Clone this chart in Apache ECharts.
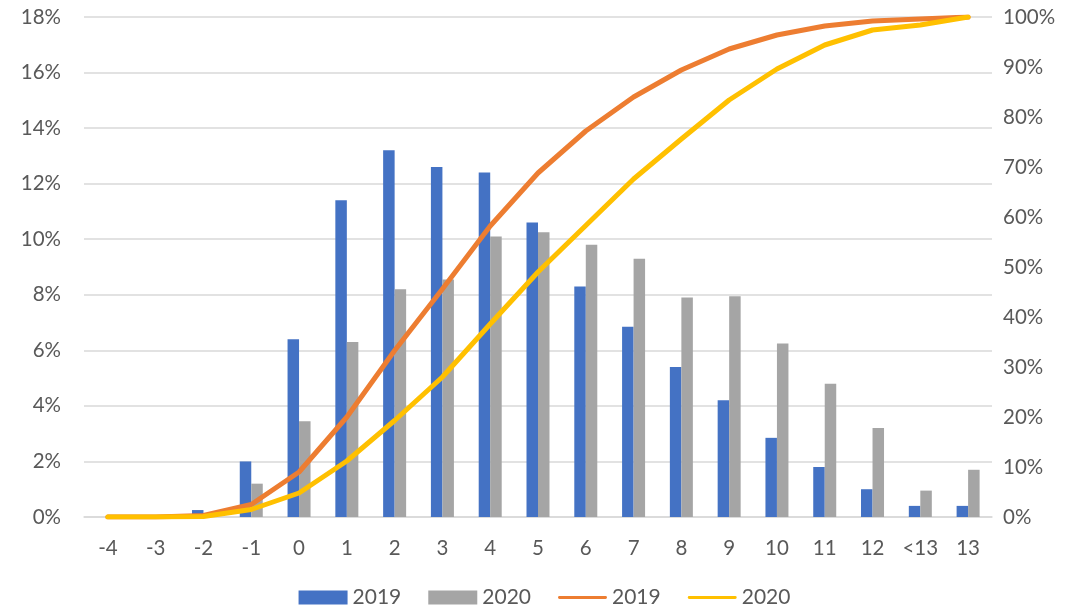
<!DOCTYPE html>
<html>
<head>
<meta charset="utf-8">
<script src="https://cdn.jsdelivr.net/npm/echarts@6/dist/echarts.min.js"></script>
<style>html,body{margin:0;padding:0;background:#fff}#c{width:1089px;height:614px}</style>
</head>
<body>
<div id="c"></div>
<script>
const categories = ['-4','-3','-2','-1','0','1','2','3','4','5','6','7','8','9','10','11','12','<13','13'];
const bars2019 = [0, 0, 0.25, 2.0, 6.4, 11.4, 13.2, 12.6, 12.4, 10.6, 8.3, 6.85, 5.4, 4.2, 2.85, 1.8, 1.0, 0.4, 0.4];
const bars2020 = [0, 0, 0.05, 1.2, 3.45, 6.3, 8.2, 8.55, 10.1, 10.25, 9.8, 9.3, 7.9, 7.95, 6.25, 4.8, 3.2, 0.95, 1.7];
const cum2019 = [0, 0, 0.3, 2.5, 9, 20, 33.3, 45.6, 58.2, 68.8, 77.2, 84, 89.4, 93.6, 96.4, 98.2, 99.2, 99.6, 100];
const cum2020 = [0, 0, 0.1, 1.5, 4.8, 11.2, 19.3, 28, 38.6, 49, 58.3, 67.6, 75.6, 83.4, 89.6, 94.4, 97.4, 98.4, 100];
const leftTicks = {min: 0, max: 18, interval: 2};
const rightTicks = {min: 0, max: 100, interval: 10};

const font = 'Lato, "Open Sans", sans-serif';
const chart = echarts.init(document.getElementById('c'));
chart.setOption({
  animation: false,
  textStyle: {fontFamily: font},
  grid: {left: 84, right: 97, top: 17, bottom: 97, containLabel: false},
  legend: {
    bottom: 1, left: 'center',
    itemWidth: 49, itemHeight: 14, itemGap: 27,
    textStyle: {fontSize: 21, color: '#595959', fontFamily: font},
    formatter: n => n.trim(),
    data: [
      {name: '2019', icon: 'rect'},
      {name: '2020', icon: 'rect'},
      {name: '2019 ', icon: 'path://M3,0 L97,0 A3,3 0 0 1 97,6 L3,6 A3,3 0 0 1 3,0 Z'},
      {name: '2020 ', icon: 'path://M3,0 L97,0 A3,3 0 0 1 97,6 L3,6 A3,3 0 0 1 3,0 Z'}
    ]
  },
  xAxis: {
    type: 'category', data: categories,
    axisLine: {lineStyle: {color: '#d9d9d9', width: 1.5}},
    axisTick: {show: false},
    axisLabel: {color: '#595959', fontSize: 20.5, margin: 21, interval: 0}
  },
  yAxis: [
    {type: 'value', min: leftTicks.min, max: leftTicks.max, interval: leftTicks.interval,
     axisLabel: {formatter: '{value}%', color: '#595959', fontSize: 20.5, margin: 23},
     splitLine: {lineStyle: {color: '#d9d9d9', width: 1.5}},
     axisLine: {show: false}, axisTick: {show: false}},
    {type: 'value', min: rightTicks.min, max: rightTicks.max, interval: rightTicks.interval,
     axisLabel: {formatter: '{value}%', color: '#595959', fontSize: 20.5, margin: 11},
     splitLine: {show: false},
     axisLine: {show: false}, axisTick: {show: false}}
  ],
  series: [
    {name: '2019', type: 'bar', data: bars2019, barWidth: 11.5, barGap: '0%',
     itemStyle: {color: '#4472C4'}},
    {name: '2020', type: 'bar', data: bars2020, barWidth: 11.5, barGap: '0%',
     itemStyle: {color: '#A5A5A5'}},
    {name: '2019 ', type: 'line', yAxisIndex: 1, data: cum2019, symbol: 'none',
     lineStyle: {color: '#ED7D31', width: 5, cap: 'round', join: 'round'}, itemStyle: {color: '#ED7D31'}},
    {name: '2020 ', type: 'line', yAxisIndex: 1, data: cum2020, symbol: 'none',
     lineStyle: {color: '#FFC000', width: 5, cap: 'round', join: 'round'}, itemStyle: {color: '#FFC000'}}
  ]
});
</script>
</body>
</html>
